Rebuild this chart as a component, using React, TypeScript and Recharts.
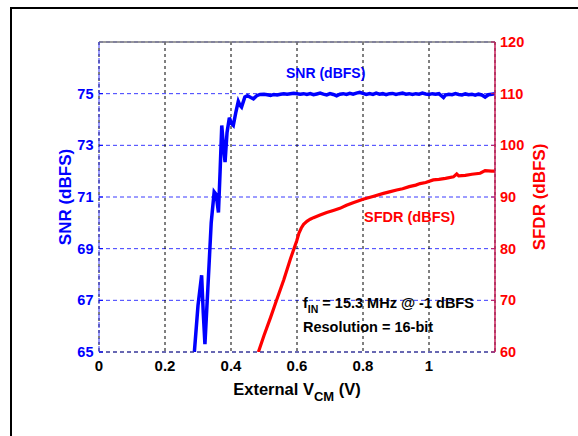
import React from "react";
import {
  LineChart,
  Line,
  XAxis,
  YAxis,
  CartesianGrid,
  ReferenceLine,
} from "recharts";

// ---- Data ----
const X_TICKS = [0, 0.2, 0.4, 0.6, 0.8, 1];
const SNR_TICKS = [65, 67, 69, 71, 73, 75];
const SFDR_TICKS = [60, 70, 80, 90, 100, 110, 120];

const SNR_V = [
  0.289, 0.3, 0.311, 0.316, 0.321, 0.33, 0.34, 0.349, 0.355, 0.362, 0.367,
  0.372, 0.377, 0.382, 0.388, 0.395, 0.401, 0.407, 0.415, 0.422, 0.427, 0.432,
  0.442, 0.45, 0.46, 0.468, 0.478, 0.488, 0.5, 0.51, 0.52, 0.53, 0.54, 0.55,
  0.56, 0.57, 0.58, 0.59, 0.6, 0.61, 0.62, 0.63, 0.64, 0.65, 0.66, 0.67, 0.68,
  0.69, 0.7, 0.71, 0.72, 0.73, 0.74, 0.75, 0.76, 0.77, 0.78, 0.79, 0.8, 0.81,
  0.82, 0.83, 0.84, 0.85, 0.86, 0.87, 0.88, 0.89, 0.9, 0.91, 0.92, 0.93, 0.94,
  0.95, 0.96, 0.97, 0.98, 0.99, 1.0, 1.01, 1.02, 1.03, 1.044, 1.05, 1.06, 1.07,
  1.08, 1.09, 1.1, 1.11, 1.12, 1.13, 1.14, 1.15, 1.16, 1.17, 1.18, 1.19, 1.2,
];
const SNR = [
  65.0, 66.8, 67.97, 66.5, 65.3, 67.5, 70.0, 71.2, 71.1, 70.4, 72.0, 73.77,
  73.0, 72.35, 73.5, 74.07, 73.85, 73.77, 74.3, 74.7, 74.55, 74.48, 74.87,
  74.92, 74.85, 74.8, 74.92, 74.97, 74.98, 74.96, 74.93, 74.97, 74.95, 74.98,
  75.0, 74.98, 75.0, 75.02, 75.0, 74.98, 75.0, 74.97, 75.0, 74.96, 74.99,
  75.02, 74.98, 74.95, 75.0, 74.97, 74.92, 74.98, 75.0, 74.97, 75.01, 74.98,
  75.02, 75.05, 75.01, 74.97, 75.0, 74.97, 75.02, 74.98, 75.0, 74.96, 75.0,
  75.01, 74.97, 75.0, 75.02, 74.98, 75.0, 74.97, 75.0, 74.98, 75.02, 74.99,
  74.97, 75.0, 74.98, 75.0, 74.85, 74.95, 74.98, 74.96, 75.0, 74.97, 74.95,
  74.99, 74.96, 74.98, 74.94, 74.98, 74.95, 74.87, 74.96, 74.98, 75.0,
];

const SFDR_V = [
  0.483, 0.5, 0.52, 0.538, 0.56, 0.58, 0.599, 0.606, 0.613, 0.62, 0.63, 0.64,
  0.65, 0.67, 0.69, 0.71, 0.73, 0.75, 0.77, 0.8, 0.83, 0.862, 0.88, 0.902,
  0.92, 0.94, 0.96, 0.973, 0.99, 1.013, 1.03, 1.05, 1.074, 1.084, 1.09, 1.11,
  1.13, 1.155, 1.17, 1.19, 1.2,
];
const SFDR = [
  60.0, 63.2, 66.7, 70.0, 74.0, 78.0, 81.5, 83.0, 84.0, 84.7, 85.3, 85.7,
  86.0, 86.5, 87.0, 87.4, 87.8, 88.4, 88.9, 89.55, 90.1, 90.7, 91.0, 91.35,
  91.6, 92.0, 92.3, 92.6, 92.8, 93.3, 93.4, 93.6, 93.9, 94.45, 94.1, 94.2,
  94.4, 94.6, 95.1, 95.0, 95.0,
];

const snrData = SNR_V.map((v, i) => ({ v, snr: SNR[i] }));
const sfdrData = SFDR_V.map((v, i) => ({ v, sfdr: SFDR[i] }));

const FONT = "'Liberation Sans', Arial, Helvetica, sans-serif";
const BLUE = "#0000ff";
const RED = "#ff0000";
const GRIDBLUE = "#3a3aff";
const RIGHTAXIS = "#c81e5a";

export default function App() {
  return (
    <div
      style={{
        position: "relative",
        width: 578,
        height: 436,
        overflow: "hidden",
        background: "#fff",
        fontFamily: FONT,
      }}
    >
      <style>{"body{margin:0;overflow:hidden;background:#fff}"}</style>
      <div
        style={{
          position: "absolute",
          left: 10,
          top: 7,
          width: 620,
          height: 480,
          border: "2px solid #000",
          boxSizing: "border-box",
        }}
      />
      <div style={{ position: "absolute", left: 0, top: 0 }}>
        <LineChart
          width={578}
          height={436}
          margin={{ top: 42, right: 40, bottom: 44, left: 39 }}
        >
          <CartesianGrid
            yAxisId="snr"
            horizontal={true}
            vertical={false}
            stroke={GRIDBLUE}
            strokeDasharray="4 3"
            strokeWidth={1}
          />
          <CartesianGrid
            yAxisId="snr"
            horizontal={false}
            vertical={true}
            stroke="#000"
            strokeDasharray="3 3"
            strokeWidth={1}
          />
          <XAxis
            type="number"
            dataKey="v"
            domain={[0, 1.2]}
            ticks={X_TICKS}
            allowDataOverflow
            height={40}
            tickSize={0}
            tickMargin={8}
            tickLine={false}
            axisLine={{ stroke: "#333366", strokeDasharray: "4 3" }}
            tick={{ fill: "#000", fontSize: 15, fontWeight: "bold", fontFamily: FONT }}
          />
          <YAxis
            yAxisId="snr"
            orientation="left"
            domain={[65, 77]}
            ticks={SNR_TICKS}
            allowDataOverflow
            width={60}
            tickSize={-4}
            tickMargin={9.5}
            tickLine={{ stroke: BLUE }}
            axisLine={{ stroke: GRIDBLUE, strokeDasharray: "6 2" }}
            tick={{ fill: BLUE, fontSize: 14.5, fontWeight: "bold", fontFamily: FONT }}
          />
          <YAxis
            yAxisId="sfdr"
            orientation="right"
            domain={[60, 120]}
            ticks={SFDR_TICKS}
            allowDataOverflow
            width={43}
            tickSize={-4}
            tickMargin={9}
            tickLine={{ stroke: RIGHTAXIS }}
            axisLine={{ stroke: RIGHTAXIS, strokeWidth: 1.5 }}
            tick={{ fill: RED, fontSize: 14.5, fontWeight: "bold", fontFamily: FONT }}
          />
          <ReferenceLine yAxisId="snr" y={77} stroke="#7a7a7a" strokeWidth={1.5} />
          <Line
            yAxisId="sfdr"
            data={sfdrData}
            dataKey="sfdr"
            type="linear"
            stroke={RED}
            strokeWidth={3.2}
            dot={false}
            isAnimationActive={false}
          />
          <Line
            yAxisId="snr"
            data={snrData}
            dataKey="snr"
            type="linear"
            stroke={BLUE}
            strokeWidth={3.5}
            dot={false}
            isAnimationActive={false}
          />
        </LineChart>
      </div>
      <svg
        width={578}
        height={436}
        style={{ position: "absolute", left: 0, top: 0, pointerEvents: "none" }}
        fontFamily={FONT}
        fontWeight="bold"
      >
        <text x={286} y={78} fill={BLUE} fontSize={14}>
          SNR (dBFS)
        </text>
        <text x={364} y={222} fill={RED} fontSize={14.5}>
          SFDR (dBFS)
        </text>
        <text x={303} y={308} fill="#000" fontSize={14.5}>
          f
          <tspan fontSize={10.5} dy={5}>
            IN
          </tspan>
          <tspan dy={-5}> = 15.3 MHz @ -1 dBFS</tspan>
        </text>
        <text x={303} y={332} fill="#000" fontSize={14.5}>
          Resolution = 16-bit
        </text>
        <text x={297} y={395} fill="#000" fontSize={16.5} textAnchor="middle">
          External V
          <tspan fontSize={13} dy={6}>
            CM
          </tspan>
          <tspan dy={-6}> (V)</tspan>
        </text>
        <text
          transform="translate(71,197) rotate(-90)"
          fill={BLUE}
          fontSize={17}
          textAnchor="middle"
        >
          SNR (dBFS)
        </text>
        <text
          transform="translate(545,197) rotate(-90)"
          fill={RED}
          fontSize={17}
          textAnchor="middle"
        >
          SFDR (dBFS)
        </text>
      </svg>
    </div>
  );
}
